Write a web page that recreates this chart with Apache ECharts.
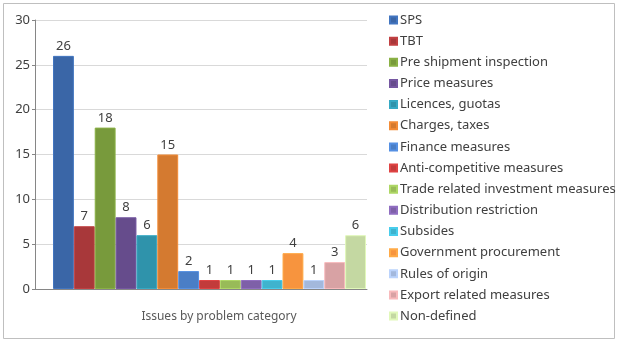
<!DOCTYPE html>
<html>
<head>
<meta charset="utf-8">
<script src="https://cdn.jsdelivr.net/npm/echarts@6/dist/echarts.min.js"></script>
<style>html,body{margin:0;padding:0;background:#fff;}#c{width:618px;height:343px;}</style>
</head>
<body>
<div id="c"></div>
<script>
var category = ['Issues by problem category'];
var seriesNames = ['SPS','TBT','Pre shipment inspection','Price measures','Licences, guotas','Charges, taxes','Finance measures','Anti-competitive measures','Trade related investment measures','Distribution restriction','Subsides','Government procurement','Rules of origin','Export related measures','Non-defined'];
var seriesValues = [26,7,18,8,6,15,2,1,1,1,1,4,1,3,6];
var colors = ['#3A66A7','#A8383A','#789A3C','#664C8C','#2F93AB','#D47A30','#4A7EC6','#C23B3B','#98BB58','#7E60A8','#3FB3CE','#F7943E','#A3B8DC','#D8A2A4','#C4D8A2'];
var yTicks = {min:0, max:30, interval:5};

var FONT = 'Noto Sans';
var chart = echarts.init(document.getElementById('c'), null, {renderer:'canvas'});
var series = seriesNames.map(function(n,i){
  return {
    name:n, type:'bar', xAxisIndex:1, yAxisIndex:1,
    data:[seriesValues[i]],
    barGap:'0%', barCategoryGap:'0%',
    itemStyle:{color:colors[i], borderColor:echarts.color.lift(colors[i],-0.15), borderWidth:1},
    label:{show:true, position:'top', distance:3, color:'#404040', fontSize:13, fontFamily:FONT},
    emphasis:{disabled:true}
  };
});
chart.setOption({
  animation:false,
  color:colors,
  textStyle:{fontFamily:FONT},
  graphic:[{type:'rect', shape:{x:3.5,y:3.5,width:611,height:335}, style:{fill:null, stroke:'#bfbfbf', lineWidth:1}, silent:true}],
  grid:[
    {left:35, right:251, top:20, bottom:54},
    {left:53, right:252, top:20, bottom:54}
  ],
  xAxis:[
    {gridIndex:0, type:'category', data:category, axisLine:{show:true, lineStyle:{color:'#868686'}}, axisTick:{show:false}, axisLabel:{show:false}, splitLine:{show:false}},
    {gridIndex:1, type:'category', data:category, axisLine:{show:false}, axisTick:{show:false},
      axisLabel:{show:true, color:'#595959', fontSize:12, fontFamily:FONT, margin:22, padding:[0,0,0,19]}}
  ],
  yAxis:[
    {gridIndex:0, type:'value', min:yTicks.min, max:yTicks.max, interval:yTicks.interval,
      axisLine:{show:true, lineStyle:{color:'#868686'}}, axisTick:{show:true, length:3, lineStyle:{color:'#868686'}},
      axisLabel:{color:'#404040', fontSize:13, fontFamily:FONT, margin:5},
      splitLine:{show:true, lineStyle:{color:'#d9d9d9'}}},
    {gridIndex:1, type:'value', min:yTicks.min, max:yTicks.max, interval:yTicks.interval, show:false, splitLine:{show:false}}
  ],
  legend:{
    orient:'vertical', left:384, top:8, itemWidth:7, itemHeight:7, itemGap:7.15,
    icon:'rect', selectedMode:false,
    textStyle:{color:'#404040', fontSize:13, fontFamily:FONT, lineHeight:14, padding:[0,0,0,-2]},
    data:seriesNames
  },
  series:series
});
</script>
</body>
</html>
